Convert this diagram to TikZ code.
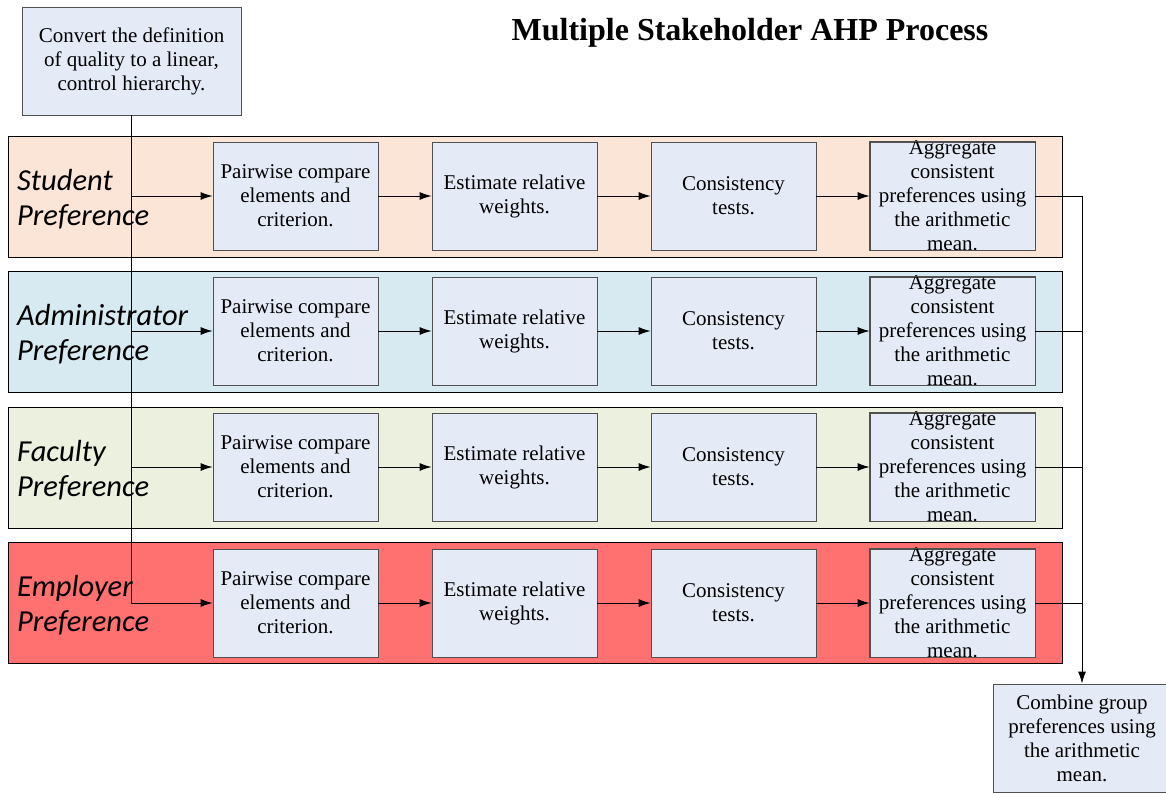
\documentclass[tikz,border=0pt]{standalone}
\usepackage{fontspec}
\setmainfont{Liberation Serif}
\newfontfamily\lblfont{Carlito}
\usetikzlibrary{arrows.meta}
\definecolor{studfill}{HTML}{FBE5D6}
\definecolor{admfill}{HTML}{D7EAF1}
\definecolor{facfill}{HTML}{EBF1DE}
\definecolor{empfill}{HTML}{FF7171}
\definecolor{boxfill}{HTML}{E5EBF6}
\definecolor{boxline}{HTML}{505050}
\tikzset{
  band/.style={draw=black, line width=0.9pt, minimum width=1054pt, minimum height=121pt, inner sep=0pt},
  stepbox/.style={draw=boxline, fill=boxfill, line width=0.9pt, minimum width=165pt, minimum height=108pt, inner sep=0pt, align=center, font=\fontsize{21}{24}\selectfont},
  boxtext/.style={inner sep=0pt, align=center, font=\fontsize{21}{24}\selectfont},
  boxborder/.style={draw=boxline, line width=0.9pt},
  lbl/.style={anchor=west, align=left, inner sep=0pt, font=\lblfont\itshape\fontsize{30.5}{35}\selectfont},
  conn/.style={line width=0.9pt, draw=black},
  arr/.style={conn, -{Latex[length=12pt,width=8pt]}}
}
\begin{document}
\begin{tikzpicture}[x=1pt,y=-1pt]
\useasboundingbox (0,0) rectangle (1166,792);
\clip (0,0) rectangle (1166,792);

\node[font=\bfseries\fontsize{32}{36}\selectfont] (title) at (750,33) {Multiple Stakeholder AHP Process};

\node[stepbox, minimum width=219pt] (top) at (131.5,61) {Convert the definition\\of quality to a linear,\\control hierarchy.};

\node[band, fill=studfill] (b1) at (535,196.5) {};
\node[band, fill=admfill] (b2) at (535,331.5) {};
\node[band, fill=facfill] (b3) at (535,467.5) {};
\node[band, fill=empfill] (b4) at (535,602.5) {};

\node[lbl] (l1) at (17,199) {Student\\Preference};
\node[lbl] (l2) at (17,334) {Administrator\\Preference};
\node[lbl] (l3) at (17,470) {Faculty\\Preference};
\node[lbl] (l4) at (17,605) {Employer\\Preference};

\foreach \i/\y in {1/196, 2/331, 3/467, 4/603}{
  \node[stepbox] (pw\i) at (295.5,\y) {Pairwise compare\\elements and\\criterion.};
  \node[stepbox] (es\i) at (514.5,\y) {Estimate relative\\weights.};
  \node[stepbox] (ct\i) at (733.5,\y) {Consistency\\tests.};
  \node[stepbox] (ag\i) at (952.5,\y) {};
  \node[boxtext] (agt\i) at (ag\i.center) {Aggregate\\consistent\\preferences using\\the arithmetic\\mean.};
  \draw[boxborder] (ag\i.north west) rectangle (ag\i.south east);
  \draw[arr] (pw\i) -- (es\i);
  \draw[arr] (es\i) -- (ct\i);
  \draw[arr] (ct\i) -- (ag\i);
}

\node[stepbox, minimum width=178pt] (cmb) at (1082,738) {Combine group\\preferences using\\the arithmetic\\mean.};

\draw[arr] (top.south) |- (pw4.west);
\foreach \i in {1,2,3}{
  \draw[arr] (top.south |- pw\i.west) -- (pw\i.west);
}

\foreach \i in {1,2,3,4}{
  \draw[conn] (ag\i.east) -- (ag\i.east -| cmb.north);
}
\draw[arr] (ag1.east -| cmb.north) -- (cmb.north);
\end{tikzpicture}
\end{document}
